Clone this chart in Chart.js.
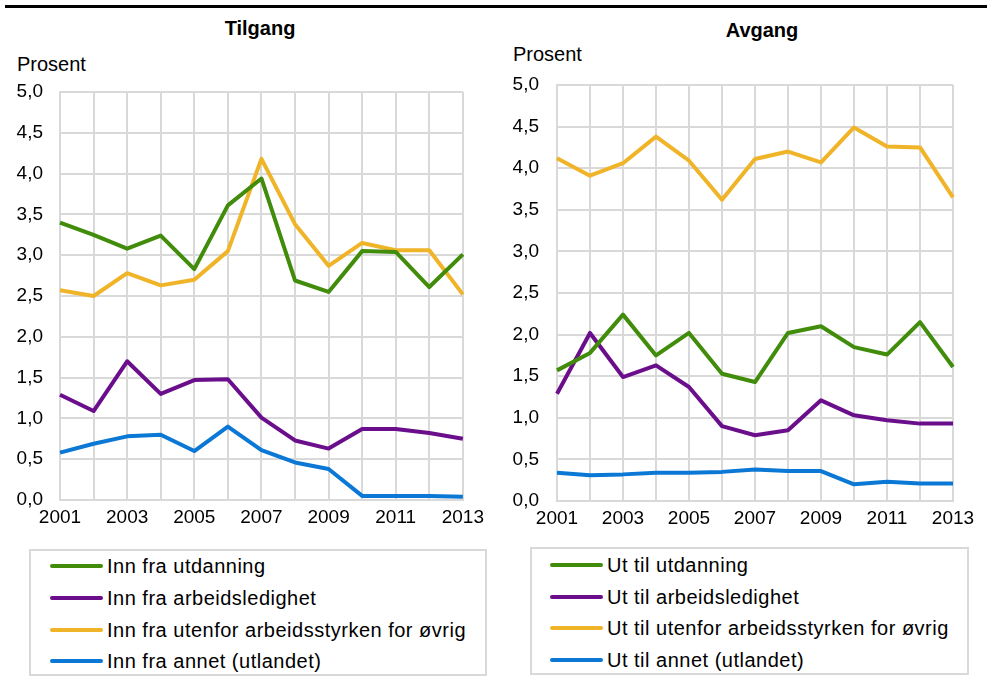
<!DOCTYPE html>
<html>
<head>
<meta charset="utf-8">
<script src="https://cdn.jsdelivr.net/npm/chart.js@4.4.1/dist/chart.umd.min.js"></script>
<style>
    body { margin: 0; background: #fff; font-family: "Liberation Sans", Arial, sans-serif; color: #000; }
    #page { position: relative; width: 987px; height: 682px; overflow: hidden; }
    .abs { position: absolute; }
    .title { font-weight: bold; font-size: 20px; line-height: 20px; white-space: nowrap; transform: translateX(-50%); }
    .unit { font-size: 20px; line-height: 20px; white-space: nowrap; }
    .legend { border: 2px solid #d9d9d9; box-sizing: border-box; }
    .row { position: absolute; height: 32px; display: flex; align-items: center; white-space: nowrap; font-size: 20px; line-height: 20px; letter-spacing: 0.5px; }
    .swatch { width: 53px; height: 4px; border-radius: 2px; margin-right: 4px; }
</style>
</head>
<body>
<div id="page">
    <div class="abs" style="left:5px; top:5px; width:982px; height:3px; background:#000;"></div>

    <div class="abs title" style="left:260px; top:18px;">Tilgang</div>
    <div class="abs unit" style="left:17px; top:54px;">Prosent</div>
    <div class="abs" style="left:0; top:80px; width:490px; height:450px;"><canvas id="tilgang" width="490" height="450"></canvas></div>

    <div class="abs title" style="left:762px; top:20px;">Avgang</div>
    <div class="abs unit" style="left:513px; top:44px;">Prosent</div>
    <div class="abs" style="left:490px; top:70px; width:497px; height:460px;"><canvas id="avgang" width="497" height="460"></canvas></div>

    <div id="legendLeft" class="abs legend" style="left:29px; top:549px; width:458px; height:127px;"></div>
    <div id="legendRight" class="abs legend" style="left:530px; top:547px; width:439px; height:128px;"></div>
</div>

<script>
const years = ['2001', '2002', '2003', '2004', '2005', '2006', '2007', '2008', '2009', '2010', '2011', '2012', '2013'];

const innLabels = ['Inn fra utdanning', 'Inn fra arbeidsledighet', 'Inn fra utenfor arbeidsstyrken for øvrig', 'Inn fra annet (utlandet)'];
const innUtdanning = [3.40, 3.25, 3.08, 3.24, 2.83, 3.61, 3.94, 2.69, 2.55, 3.05, 3.04, 2.61, 3.01];
const innLedighet = [1.29, 1.09, 1.70, 1.30, 1.47, 1.48, 1.01, 0.73, 0.63, 0.87, 0.87, 0.82, 0.75];
const innUtenfor = [2.57, 2.50, 2.78, 2.63, 2.70, 3.05, 4.18, 3.38, 2.87, 3.15, 3.06, 3.06, 2.52];
const innAnnet = [0.58, 0.69, 0.78, 0.80, 0.60, 0.90, 0.61, 0.46, 0.38, 0.05, 0.05, 0.05, 0.04];

const utLabels = ['Ut til utdanning', 'Ut til arbeidsledighet', 'Ut til utenfor arbeidsstyrken for øvrig', 'Ut til annet (utlandet)'];
const utUtdanning = [1.57, 1.78, 2.24, 1.75, 2.02, 1.53, 1.43, 2.02, 2.10, 1.85, 1.76, 2.15, 1.61];
const utLedighet = [1.29, 2.02, 1.49, 1.63, 1.37, 0.90, 0.79, 0.85, 1.21, 1.03, 0.97, 0.93, 0.93];
const utUtenfor = [4.12, 3.91, 4.06, 4.38, 4.09, 3.62, 4.11, 4.20, 4.07, 4.49, 4.26, 4.25, 3.65];
const utAnnet = [0.34, 0.31, 0.32, 0.34, 0.34, 0.35, 0.38, 0.36, 0.36, 0.20, 0.23, 0.21, 0.21];

const colors = ['#418c0a', '#6b0e8c', '#f0b429', '#0a78d4'];
const gridColor = '#d9d9d9';
const tickFont = { family: '"Liberation Sans", Arial, sans-serif', size: 19 };

function buildDatasets(labels, series) {
    return series.map((data, i) => ({
        label: labels[i],
        data,
        borderColor: colors[i],
        backgroundColor: colors[i],
        borderWidth: 4,
        pointRadius: 0,
        tension: 0,
        borderJoinStyle: 'round',
    }));
}

function renderPanel(id, labels, series, box) {
    const element = document.getElementById(id);
    if (!element || typeof Chart === 'undefined') return;

    new Chart(element, {
        type: 'line',
        data: { labels: years, datasets: buildDatasets(labels, series) },
        options: {
            responsive: false,
            animation: false,
            layout: { padding: { left: 0, right: box.right, top: box.top, bottom: 0 } },
            plugins: { legend: { display: false }, tooltip: { enabled: false } },
            scales: {
                x: {
                    offset: false,
                    grid: { color: gridColor, lineWidth: 2, drawTicks: false },
                    border: { color: gridColor, width: 2 },
                    ticks: {
                        autoSkip: false,
                        maxRotation: 0,
                        padding: 6,
                        color: '#000',
                        font: tickFont,
                        callback: (value, index) => (index % 2 === 0 ? years[index] : ''),
                    },
                    afterFit: (scale) => { scale.height = box.bottom; },
                },
                y: {
                    min: 0,
                    max: 5,
                    grid: { color: gridColor, lineWidth: 2, drawTicks: false },
                    border: { color: gridColor, width: 2 },
                    ticks: {
                        stepSize: 0.5,
                        padding: box.tickPad,
                        color: '#000',
                        font: tickFont,
                        callback: (value) => value.toFixed(1).replace('.', ','),
                    },
                    // fixed plot area: ignore the label padding chart.js adds above/below
                    afterFit: (scale) => {
                        scale.width = box.left;
                        scale.paddingTop = 0;
                        scale.paddingBottom = 0;
                    },
                },
            },
        },
    });
}

function renderLegend(id, labels, rows) {
    const holder = document.getElementById(id);
    labels.forEach((label, i) => {
        const row = document.createElement('div');
        row.className = 'row';
        row.style.left = (rows.x - 2) + 'px';
        row.style.top = (rows.y[i] - 16) + 'px';
        row.innerHTML = `<div class="swatch" style="background:${colors[i]}"></div><span>${label}</span>`;
        holder.appendChild(row);
    });
}

renderPanel('tilgang', innLabels, [innUtdanning, innLedighet, innUtenfor, innAnnet],
    { left: 60, right: 27, top: 12, bottom: 30, tickPad: 17 });
renderPanel('avgang', utLabels, [utUtdanning, utLedighet, utUtenfor, utAnnet],
    { left: 67, right: 34, top: 15, bottom: 29, tickPad: 18 });

// legend rows are positioned relative to the box (page coords minus box origin)
renderLegend('legendLeft', innLabels, { x: 50 - 29, y: [564 - 549, 596 - 549, 628 - 549, 659 - 549] });
renderLegend('legendRight', utLabels, { x: 550 - 530, y: [563 - 547, 595 - 547, 626 - 547, 658 - 547] });
</script>
</body>
</html>
